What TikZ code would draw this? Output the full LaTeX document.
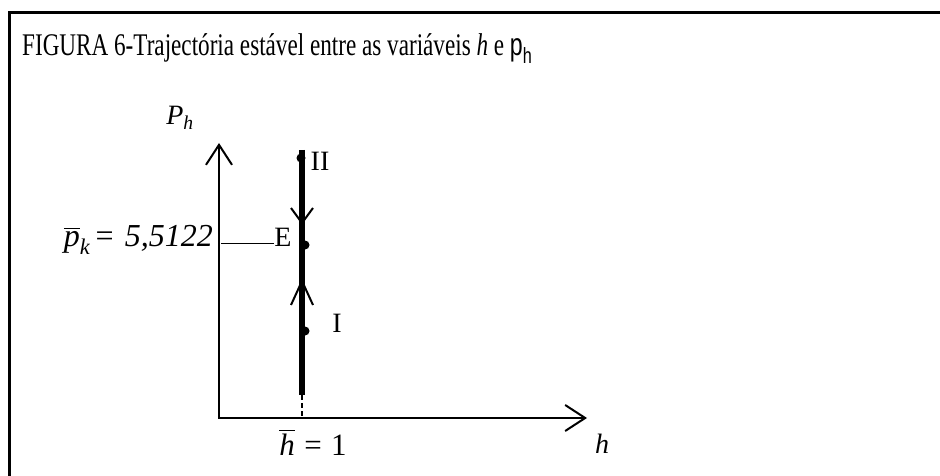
\documentclass[tikz,border=0pt]{standalone}
\usepackage{amsmath}
\usepackage{graphicx}
\usepackage{fontspec}
\setmainfont{Liberation Serif}
\newfontfamily\sanslab{Liberation Sans}
\usetikzlibrary{arrows.meta}
\tikzset{
  frameline/.style={line width=3pt},
  axisline/.style={line width=2pt, {Straight Barb[length=20pt,width=26pt]}-{Straight Barb[length=20pt,width=26pt]}},
  traj/.style={line width=5.5pt},
  chev/.style={line width=2pt},
  dotnode/.style={circle, fill=black, inner sep=0pt, minimum size=9pt},
  lab/.style={inner sep=0pt, font=\fontsize{28}{32}\selectfont},
}
\begin{document}
\begin{tikzpicture}[x=1pt,y=-1pt]
\useasboundingbox (0,0) rectangle (940,476);
\fill[white] (0,0) rectangle (940,476);
% frame
\coordinate (fbl) at (9,476);
\coordinate (ftl) at (9,13);
\coordinate (ftr) at (940,13);
\draw[frameline] (fbl) -- (ftl) -- (ftr);
% title
\node[anchor=base west, inner sep=0pt, font=\fontsize{31.5}{35}\selectfont] (title) at (22,56)
  {\scalebox{0.735}[1]{FIGURA 6-Trajectória estável entre as variáveis \textit{h} e {\sanslab p\textsubscript{h}}}};
% axes
\coordinate (O) at (219,418);
\coordinate (ytip) at (219,143);
\coordinate (xtip) at (587,418);
\draw[axisline] (ytip) -- (O) -- (xtip);
% trajectory
\coordinate (ttop) at (302,150);
\coordinate (tbot) at (302,395);
\coordinate (tbase) at (302,418);
\draw[traj] (ttop) -- (tbot);
\draw[line width=1.5pt, dash pattern=on 5pt off 3pt] (tbot) -- (tbase);
% chevrons
\coordinate (dtip) at (302,223);
\draw[chev] (291,208) -- (dtip) -- (313,208);
\coordinate (utip) at (302,281);
\draw[chev] (291,305) -- (utip) -- (313,305);
% points
\node[dotnode] (pII) at (301,158) {};
\node[dotnode] (pE) at (305,245) {};
\node[dotnode] (pI) at (305,331) {};
\node[lab] (lII) at (320,161) {II};
\node[lab] (lE) at (283,237) {E};
\node[lab] (lI) at (337,323) {I};
% level line
\coordinate (ylev) at (221,243);
\draw[line width=1pt] (ylev) -- (lE.west |- ylev);
\node[lab, anchor=east, font=\fontsize{32}{36}\selectfont] (pk) at (213,240)
  {$\overline{\textit{p}}_{\textit{k}}$\,=\hspace{0.35em}\textit{5,5122}};
% axis labels
\node[lab] (Ph) at (180,118) {\textit{P}\textsubscript{\textit{h}}};
\node[lab, font=\fontsize{31}{35}\selectfont] (hbar) at (313,442) {$\overline{\textit{h}}$\hspace{0.3em}=\hspace{0.3em}1};
\node[lab] (hlab) at (602,444) {\textit{h}};
\end{tikzpicture}
\end{document}
